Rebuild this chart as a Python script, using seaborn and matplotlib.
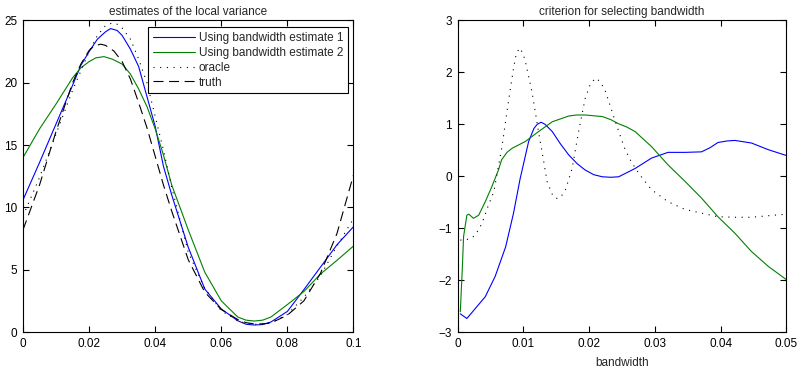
import matplotlib
matplotlib.use("Agg")
import matplotlib.pyplot as plt
import seaborn as sns

sns.set_style("ticks")
plt.rcParams["font.family"] = ["Liberation Sans", "DejaVu Sans"]

# --- left panel: estimates of the local variance ---
est1_x = [0, 0.005, 0.01, 0.015, 0.0175, 0.02, 0.0225, 0.025, 0.0265, 0.0285, 0.03,
          0.0325, 0.035, 0.0375, 0.04, 0.0425, 0.045, 0.05, 0.055, 0.06, 0.065,
          0.0675, 0.07, 0.0725, 0.075, 0.08, 0.085, 0.09, 0.095, 0.1]
est1_y = [10.6, 13.6, 16.7, 19.8, 21.4, 22.5, 23.5, 24.1, 24.35, 24.2, 23.8,
          22.7, 21.3, 18.9, 16.5, 13.3, 11.0, 6.8, 3.45, 1.85, 0.9,
          0.62, 0.56, 0.6, 0.8, 1.65, 3.4, 5.2, 7.0, 8.45]

est2_x = [0, 0.005, 0.01, 0.015, 0.0175, 0.02, 0.022, 0.0245, 0.027, 0.03, 0.0325,
          0.035, 0.0375, 0.04, 0.0425, 0.045, 0.05, 0.055, 0.06, 0.065, 0.0675,
          0.07, 0.0725, 0.075, 0.08, 0.085, 0.09, 0.095, 0.1]
est2_y = [14.0, 16.3, 18.3, 20.4, 21.2, 21.7, 22.0, 22.1, 21.9, 21.5, 20.7,
          19.5, 18.1, 16.3, 14.2, 11.8, 8.2, 4.8, 2.5, 1.2, 0.95,
          0.88, 0.95, 1.2, 2.2, 3.25, 4.65, 5.75, 6.9]

oracle_x = [0, 0.005, 0.01, 0.015, 0.02, 0.0225, 0.025, 0.027, 0.0285, 0.03, 0.0325,
            0.035, 0.0375, 0.04, 0.0425, 0.045, 0.05, 0.055, 0.06, 0.065, 0.0675,
            0.07, 0.0725, 0.075, 0.08, 0.085, 0.09, 0.095, 0.1]
oracle_y = [9.3, 12.4, 15.9, 19.4, 22.5, 23.8, 24.6, 24.8, 24.7, 24.4, 23.5,
            21.9, 20.0, 17.3, 14.6, 11.6, 6.4, 3.5, 1.7, 0.9, 0.68,
            0.62, 0.64, 0.75, 1.4, 2.8, 4.5, 6.9, 9.1]

truth_x = [0, 0.005, 0.01, 0.015, 0.0175, 0.02, 0.0215, 0.0235, 0.025, 0.0275, 0.03,
           0.0325, 0.035, 0.0375, 0.04, 0.0425, 0.045, 0.05, 0.055, 0.06, 0.065,
           0.0675, 0.07, 0.0725, 0.075, 0.08, 0.085, 0.09, 0.095, 0.1]
truth_y = [8.2, 11.8, 16.1, 20.0, 21.5, 22.6, 22.95, 23.1, 23.0, 22.55, 21.7,
           20.3, 18.4, 16.4, 14.1, 11.8, 9.7, 5.8, 3.2, 1.8, 1.0,
           0.75, 0.65, 0.65, 0.72, 1.35, 2.5, 4.7, 7.9, 12.6]

# --- right panel: criterion for selecting bandwidth ---
crit1_x = [0.0004, 0.0014, 0.0022, 0.0042, 0.0057, 0.0073, 0.0085, 0.0095, 0.0108,
           0.0116, 0.0121, 0.0127, 0.0133, 0.0144, 0.0156, 0.0169, 0.0182, 0.0194,
           0.0207, 0.022, 0.0233, 0.0245, 0.027, 0.0295, 0.032, 0.0346, 0.0371,
           0.0384, 0.0396, 0.041, 0.0422, 0.0447, 0.0473, 0.05]
crit1_y = [-2.65, -2.74, -2.62, -2.32, -1.93, -1.36, -0.71, -0.05, 0.67,
           0.92, 1.0, 1.04, 1.0, 0.86, 0.63, 0.41, 0.24, 0.12,
           0.03, -0.01, -0.02, -0.01, 0.15, 0.35, 0.46, 0.46, 0.47,
           0.55, 0.65, 0.68, 0.69, 0.64, 0.51, 0.40]

crit2_x = [0.0004, 0.0007, 0.0009, 0.0014, 0.0017, 0.0024, 0.0032, 0.0042, 0.0052,
           0.0062, 0.0067, 0.0075, 0.0083, 0.0103, 0.0123, 0.0144, 0.0169, 0.0181,
           0.0194, 0.022, 0.0233, 0.0245, 0.0257, 0.027, 0.0295, 0.032, 0.0346,
           0.0371, 0.0396, 0.0422, 0.0447, 0.0473, 0.05]
crit2_y = [-2.61, -1.8, -1.16, -0.75, -0.73, -0.81, -0.75, -0.49, -0.2,
           0.12, 0.32, 0.46, 0.54, 0.67, 0.86, 1.05, 1.16, 1.18,
           1.18, 1.15, 1.09, 1.01, 0.95, 0.86, 0.57, 0.22, -0.1,
           -0.42, -0.78, -1.1, -1.45, -1.74, -1.99]

crito_x = [0.0004, 0.0019, 0.0027, 0.0037, 0.0047, 0.0055, 0.0067, 0.0078, 0.0085,
           0.0089, 0.0094, 0.0099, 0.0103, 0.0113, 0.0123, 0.0131, 0.0136, 0.0144,
           0.0148, 0.0153, 0.0158, 0.0164, 0.0174, 0.0184, 0.0194, 0.0202, 0.021,
           0.0217, 0.0225, 0.024, 0.0254, 0.0264, 0.0277, 0.0295, 0.032, 0.0346,
           0.0371, 0.0396, 0.0422, 0.0447, 0.0473, 0.05]
crito_y = [-1.23, -1.21, -1.13, -0.91, -0.55, -0.3, 0.54, 1.5, 2.08,
           2.35, 2.47, 2.38, 2.21, 1.63, 0.86, 0.28, -0.1, -0.35,
           -0.42, -0.43, -0.38, -0.26, 0.14, 0.86, 1.5, 1.78, 1.89,
           1.82, 1.63, 1.05, 0.54, 0.28, 0.03, -0.26, -0.49, -0.64,
           -0.71, -0.78, -0.79, -0.79, -0.76, -0.73]

left_xticks = [0, 0.02, 0.04, 0.06, 0.08, 0.1]
left_xlabels = ["0", "0.02", "0.04", "0.06", "0.08", "0.1"]
left_yticks = [0, 5, 10, 15, 20, 25]
right_xticks = [0, 0.01, 0.02, 0.03, 0.04, 0.05]
right_xlabels = ["0", "0.01", "0.02", "0.03", "0.04", "0.05"]
right_yticks = [-3, -2, -1, 0, 1, 2, 3]

BLUE = "#0000ff"
GREEN = "#008000"
LW = 0.8
FS = 8.5
DOTS = (0, (1, 5))
DASH = (0, (9, 5))

fig = plt.figure(figsize=(7.99, 3.70), dpi=100)
ax1 = fig.add_axes([0.0288, 0.1027, 0.4136, 0.8419])
ax2 = fig.add_axes([0.5728, 0.1027, 0.4113, 0.8419])

sns.lineplot(x=est1_x, y=est1_y, ax=ax1, color=BLUE, lw=LW, sort=False,
             estimator=None, label="Using bandwidth estimate 1")
sns.lineplot(x=est2_x, y=est2_y, ax=ax1, color=GREEN, lw=LW, sort=False,
             estimator=None, label="Using bandwidth estimate 2")
sns.lineplot(x=oracle_x, y=oracle_y, ax=ax1, color="black", lw=LW, sort=False,
             estimator=None, label="oracle", linestyle=DOTS)
sns.lineplot(x=truth_x, y=truth_y, ax=ax1, color="black", lw=LW, sort=False,
             estimator=None, label="truth", linestyle=DASH)

sns.lineplot(x=crit1_x, y=crit1_y, ax=ax2, color=BLUE, lw=LW, sort=False, estimator=None)
sns.lineplot(x=crit2_x, y=crit2_y, ax=ax2, color=GREEN, lw=LW, sort=False, estimator=None)
sns.lineplot(x=crito_x, y=crito_y, ax=ax2, color="black", lw=LW, sort=False,
             estimator=None, linestyle=DOTS)

ax1.set_xlim(0, 0.1)
ax1.set_ylim(0, 25)
ax1.set_xticks(left_xticks, left_xlabels)
ax1.set_yticks(left_yticks)
ax1.set_title("estimates of the local variance", fontsize=FS, pad=4)

ax2.set_xlim(0, 0.05)
ax2.set_ylim(-3, 3)
ax2.set_xticks(right_xticks, right_xlabels)
ax2.set_yticks(right_yticks)
ax2.set_title("criterion for selecting bandwidth", fontsize=FS, pad=4)
ax2.set_xlabel("bandwidth", fontsize=FS, labelpad=5)

for ax in (ax1, ax2):
    ax.set_ylabel("")
    for sp in ax.spines.values():
        sp.set_visible(True)
        sp.set_color("black")
        sp.set_linewidth(0.8)
    ax.tick_params(direction="in", length=4, width=0.8, labelsize=FS,
                   top=True, right=True, pad=4, colors="black")

leg = ax1.legend(loc="upper right", bbox_to_anchor=(0.984, 0.979), fontsize=FS,
                 frameon=True, fancybox=False, edgecolor="black", framealpha=1,
                 handlelength=3.6, borderaxespad=0, borderpad=0.4,
                 labelspacing=0.25, handletextpad=0.3)
leg.get_frame().set_linewidth(0.8)

fig.savefig("out.png", dpi=100)
